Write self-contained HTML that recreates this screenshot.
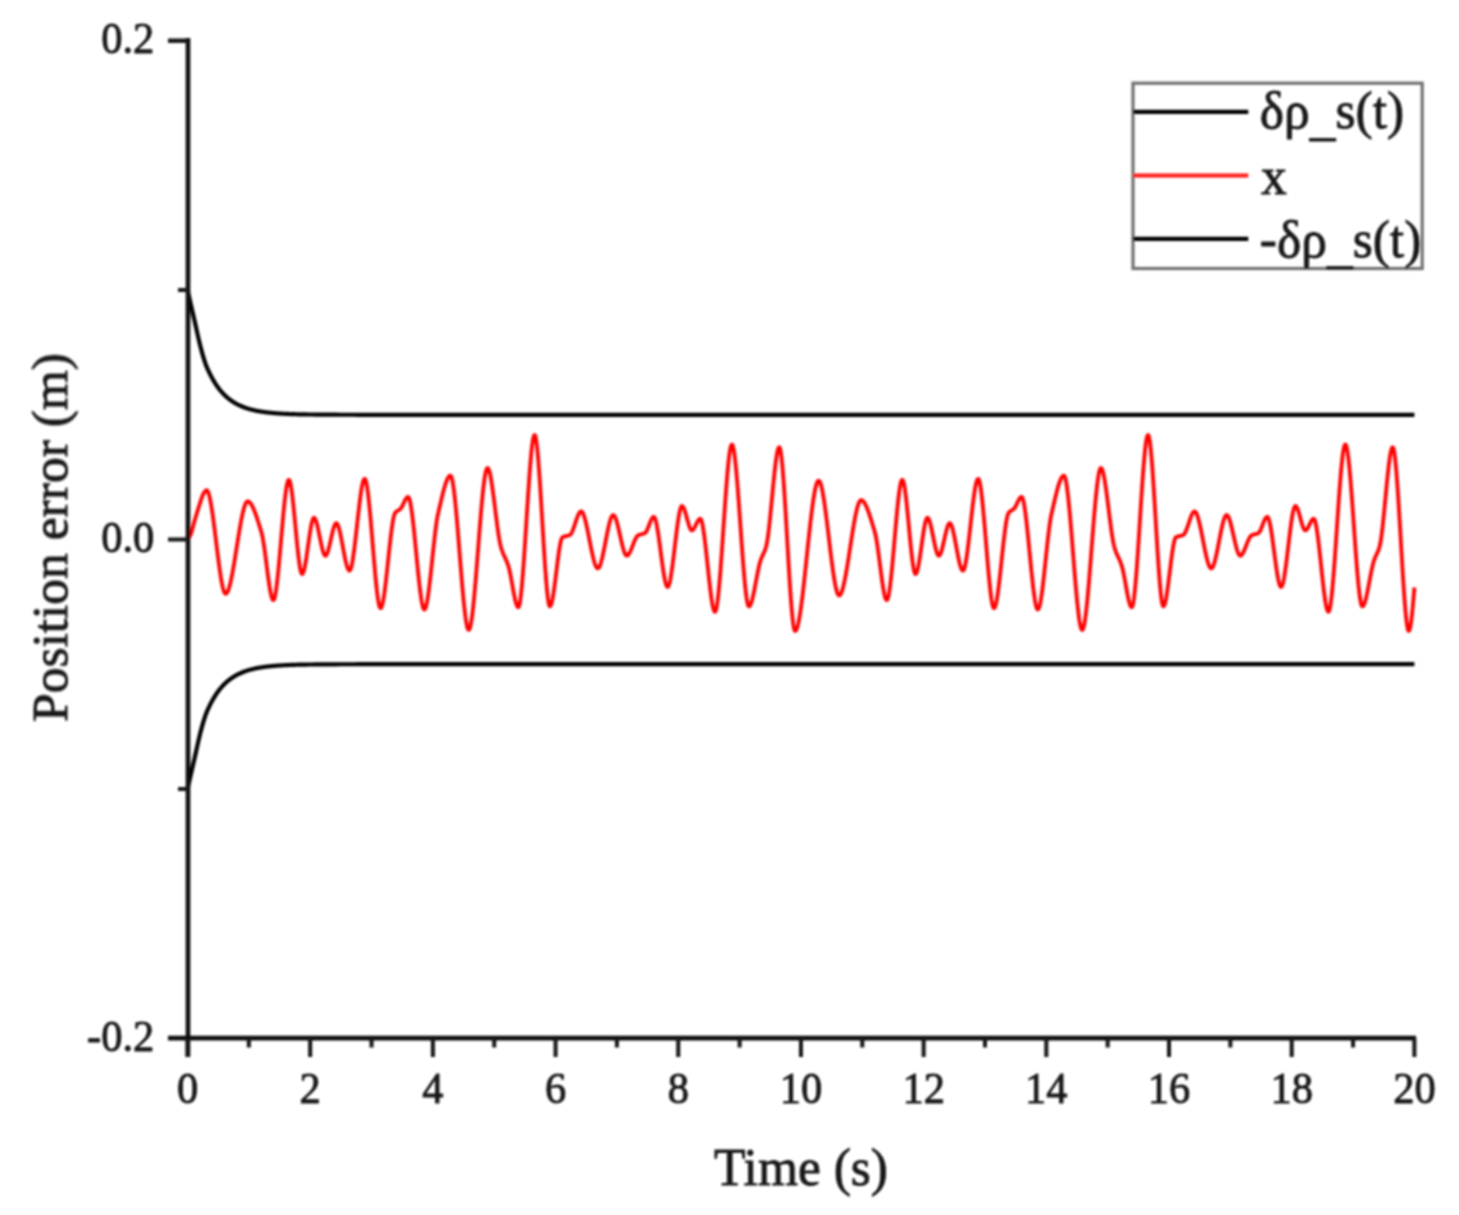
<!DOCTYPE html>
<html><head><meta charset="utf-8"><style>
html,body{margin:0;padding:0;background:#fff;}
svg{display:block;}
#w{width:1459px;height:1215px;}
text{font-family:"Liberation Serif",serif;fill:#141414;stroke:#141414;stroke-width:0.8px;}
</style></head><body><div id="w">
<svg width="1459" height="1215" viewBox="0 0 1459 1215">
<defs><filter id="b" x="0" y="0" width="1459" height="1215" filterUnits="userSpaceOnUse"><feGaussianBlur stdDeviation="1"/></filter></defs><rect width="1459" height="1215" fill="#fff"/><g filter="url(#b)">
<g fill="none" stroke-linejoin="round">
<path d="M187.50 290.10 L188.11 292.76 L188.73 295.42 L189.34 298.08 L189.95 300.74 L190.57 303.41 L191.18 306.07 L191.79 308.73 L192.41 311.39 L193.02 314.05 L193.63 316.71 L194.25 319.37 L194.86 322.06 L195.47 324.81 L196.09 327.58 L196.70 330.37 L197.32 333.14 L197.93 335.90 L198.54 338.61 L199.16 341.26 L199.77 343.83 L200.38 346.29 L201.00 348.64 L201.61 350.91 L202.22 353.13 L202.84 355.30 L203.45 357.39 L204.06 359.41 L204.68 361.33 L205.29 363.15 L205.90 364.86 L206.52 366.43 L207.13 367.90 L207.74 369.28 L208.36 370.61 L208.97 371.92 L209.58 373.21 L210.20 374.46 L210.81 375.67 L211.42 376.85 L212.04 377.98 L212.65 379.09 L213.26 380.16 L213.88 381.20 L214.49 382.21 L215.11 383.19 L215.72 384.14 L216.33 385.06 L216.95 385.96 L217.56 386.82 L218.17 387.66 L218.79 388.48 L219.40 389.27 L220.01 390.04 L220.63 390.78 L221.24 391.50 L221.85 392.20 L222.47 392.88 L223.08 393.54 L223.69 394.18 L224.31 394.80 L224.92 395.40 L225.53 395.98 L226.15 396.55 L226.76 397.09 L227.37 397.63 L227.99 398.14 L228.60 398.64 L229.21 399.13 L229.83 399.60 L230.44 400.05 L231.05 400.50 L231.67 400.93 L232.28 401.34 L232.90 401.75 L233.51 402.14 L234.12 402.52 L234.74 402.89 L235.35 403.25 L235.96 403.59 L236.58 403.93 L237.19 404.26 L237.80 404.57 L238.42 404.88 L239.03 405.18 L239.64 405.47 L240.26 405.75 L240.87 406.02 L241.48 406.28 L242.10 406.54 L242.71 406.79 L243.32 407.03 L243.94 407.26 L244.55 407.49 L245.16 407.71 L245.78 407.92 L246.39 408.13 L247.00 408.33 L247.62 408.52 L248.23 408.71 L248.84 408.89 L249.46 409.07 L250.07 409.24 L250.69 409.41 L251.30 409.57 L251.91 409.73 L252.53 409.88 L253.14 410.03 L253.75 410.17 L254.37 410.31 L254.98 410.45 L255.59 410.58 L256.21 410.70 L256.82 410.83 L257.43 410.95 L258.05 411.06 L258.66 411.17 L259.27 411.28 L259.89 411.39 L260.50 411.49 L261.11 411.59 L261.73 411.69 L262.34 411.78 L262.95 411.87 L263.57 411.96 L264.18 412.05 L264.79 412.13 L265.41 412.21 L266.02 412.29 L266.64 412.36 L267.25 412.43 L267.86 412.51 L268.48 412.57 L269.09 412.64 L269.70 412.71 L270.32 412.77 L270.93 412.83 L271.54 412.89 L272.16 412.95 L272.77 413.00 L273.38 413.06 L274.00 413.11 L274.61 413.16 L275.22 413.21 L275.84 413.26 L276.45 413.30 L277.06 413.35 L277.68 413.39 L278.29 413.43 L278.90 413.48 L279.52 413.51 L280.13 413.55 L280.74 413.59 L281.36 413.63 L281.97 413.66 L282.58 413.70 L283.20 413.73 L283.81 413.76 L284.43 413.79 L285.04 413.82 L285.65 413.85 L286.27 413.88 L286.88 413.91 L287.49 413.94 L288.11 413.96 L288.72 413.99 L289.33 414.01 L289.95 414.03 L290.56 414.06 L291.17 414.08 L291.79 414.10 L292.40 414.12 L293.01 414.14 L293.63 414.16 L294.24 414.18 L294.85 414.20 L295.47 414.22 L296.08 414.24 L296.69 414.25 L297.31 414.27 L297.92 414.29 L298.53 414.30 L299.15 414.32 L299.76 414.33 L300.37 414.34 L300.99 414.36 L301.60 414.37 L302.22 414.38 L302.83 414.40 L303.44 414.41 L304.06 414.42 L304.67 414.43 L305.28 414.44 L305.90 414.45 L306.51 414.46 L307.12 414.47 L307.74 414.48 L308.35 414.49 L308.96 414.50 L309.58 414.51 L310.19 414.52 L316.32 414.59 L322.46 414.65 L328.59 414.69 L334.73 414.72 L340.86 414.74 L347.00 414.76 L353.13 414.77 L359.27 414.78 L365.40 414.78 L371.54 414.79 L377.67 414.79 L383.80 414.79 L389.94 414.79 L396.07 414.80 L402.21 414.80 L408.34 414.80 L414.48 414.80 L420.61 414.80 L426.75 414.80 L432.88 414.80 L439.01 414.80 L445.15 414.80 L451.28 414.80 L457.42 414.80 L463.55 414.80 L469.69 414.80 L475.82 414.80 L481.96 414.80 L488.09 414.80 L494.23 414.80 L500.36 414.80 L506.49 414.80 L512.63 414.80 L518.76 414.80 L524.90 414.80 L531.03 414.80 L537.17 414.80 L543.30 414.80 L549.44 414.80 L555.57 414.80 L561.70 414.80 L567.84 414.80 L573.97 414.80 L580.11 414.80 L586.24 414.80 L592.38 414.80 L598.51 414.80 L604.65 414.80 L610.78 414.80 L616.92 414.80 L623.05 414.80 L629.18 414.80 L635.32 414.80 L641.45 414.80 L647.59 414.80 L653.72 414.80 L659.86 414.80 L665.99 414.80 L672.13 414.80 L678.26 414.80 L684.39 414.80 L690.53 414.80 L696.66 414.80 L702.80 414.80 L708.93 414.80 L715.07 414.80 L721.20 414.80 L727.34 414.80 L733.47 414.80 L739.61 414.80 L745.74 414.80 L751.87 414.80 L758.01 414.80 L764.14 414.80 L770.28 414.80 L776.41 414.80 L782.55 414.80 L788.68 414.80 L794.82 414.80 L800.95 414.80 L807.08 414.80 L813.22 414.80 L819.35 414.80 L825.49 414.80 L831.62 414.80 L837.76 414.80 L843.89 414.80 L850.03 414.80 L856.16 414.80 L862.30 414.80 L868.43 414.80 L874.56 414.80 L880.70 414.80 L886.83 414.80 L892.97 414.80 L899.10 414.80 L905.24 414.80 L911.37 414.80 L917.51 414.80 L923.64 414.80 L929.77 414.80 L935.91 414.80 L942.04 414.80 L948.18 414.80 L954.31 414.80 L960.45 414.80 L966.58 414.80 L972.72 414.80 L978.85 414.80 L984.99 414.80 L991.12 414.80 L997.25 414.80 L1003.39 414.80 L1009.52 414.80 L1015.66 414.80 L1021.79 414.80 L1027.93 414.80 L1034.06 414.80 L1040.20 414.80 L1046.33 414.80 L1052.46 414.80 L1058.60 414.80 L1064.73 414.80 L1070.87 414.80 L1077.00 414.80 L1083.14 414.80 L1089.27 414.80 L1095.41 414.80 L1101.54 414.80 L1107.68 414.80 L1113.81 414.80 L1119.94 414.80 L1126.08 414.80 L1132.21 414.80 L1138.35 414.80 L1144.48 414.80 L1150.62 414.80 L1156.75 414.80 L1162.89 414.80 L1169.02 414.80 L1175.15 414.80 L1181.29 414.80 L1187.42 414.80 L1193.56 414.80 L1199.69 414.80 L1205.83 414.80 L1211.96 414.80 L1218.10 414.80 L1224.23 414.80 L1230.37 414.80 L1236.50 414.80 L1242.63 414.80 L1248.77 414.80 L1254.90 414.80 L1261.04 414.80 L1267.17 414.80 L1273.31 414.80 L1279.44 414.80 L1285.58 414.80 L1291.71 414.80 L1297.84 414.80 L1303.98 414.80 L1310.11 414.80 L1316.25 414.80 L1322.38 414.80 L1328.52 414.80 L1334.65 414.80 L1340.79 414.80 L1346.92 414.80 L1353.06 414.80 L1359.19 414.80 L1365.32 414.80 L1371.46 414.80 L1377.59 414.80 L1383.73 414.80 L1389.86 414.80 L1396.00 414.80 L1402.13 414.80 L1408.27 414.80 L1414.40 414.80" stroke="#000" stroke-width="4.2"/>
<path d="M187.50 788.90 L188.11 786.24 L188.73 783.58 L189.34 780.92 L189.95 778.26 L190.57 775.59 L191.18 772.93 L191.79 770.27 L192.41 767.61 L193.02 764.95 L193.63 762.29 L194.25 759.63 L194.86 756.94 L195.47 754.19 L196.09 751.42 L196.70 748.63 L197.32 745.86 L197.93 743.10 L198.54 740.39 L199.16 737.74 L199.77 735.17 L200.38 732.71 L201.00 730.36 L201.61 728.09 L202.22 725.87 L202.84 723.70 L203.45 721.61 L204.06 719.59 L204.68 717.67 L205.29 715.85 L205.90 714.14 L206.52 712.57 L207.13 711.10 L207.74 709.72 L208.36 708.39 L208.97 707.08 L209.58 705.79 L210.20 704.54 L210.81 703.33 L211.42 702.15 L212.04 701.02 L212.65 699.91 L213.26 698.84 L213.88 697.80 L214.49 696.79 L215.11 695.81 L215.72 694.86 L216.33 693.94 L216.95 693.04 L217.56 692.18 L218.17 691.34 L218.79 690.52 L219.40 689.73 L220.01 688.96 L220.63 688.22 L221.24 687.50 L221.85 686.80 L222.47 686.12 L223.08 685.46 L223.69 684.82 L224.31 684.20 L224.92 683.60 L225.53 683.02 L226.15 682.45 L226.76 681.91 L227.37 681.37 L227.99 680.86 L228.60 680.36 L229.21 679.87 L229.83 679.40 L230.44 678.95 L231.05 678.50 L231.67 678.07 L232.28 677.66 L232.90 677.25 L233.51 676.86 L234.12 676.48 L234.74 676.11 L235.35 675.75 L235.96 675.41 L236.58 675.07 L237.19 674.74 L237.80 674.43 L238.42 674.12 L239.03 673.82 L239.64 673.53 L240.26 673.25 L240.87 672.98 L241.48 672.72 L242.10 672.46 L242.71 672.21 L243.32 671.97 L243.94 671.74 L244.55 671.51 L245.16 671.29 L245.78 671.08 L246.39 670.87 L247.00 670.67 L247.62 670.48 L248.23 670.29 L248.84 670.11 L249.46 669.93 L250.07 669.76 L250.69 669.59 L251.30 669.43 L251.91 669.27 L252.53 669.12 L253.14 668.97 L253.75 668.83 L254.37 668.69 L254.98 668.55 L255.59 668.42 L256.21 668.30 L256.82 668.17 L257.43 668.05 L258.05 667.94 L258.66 667.83 L259.27 667.72 L259.89 667.61 L260.50 667.51 L261.11 667.41 L261.73 667.31 L262.34 667.22 L262.95 667.13 L263.57 667.04 L264.18 666.95 L264.79 666.87 L265.41 666.79 L266.02 666.71 L266.64 666.64 L267.25 666.57 L267.86 666.49 L268.48 666.43 L269.09 666.36 L269.70 666.29 L270.32 666.23 L270.93 666.17 L271.54 666.11 L272.16 666.05 L272.77 666.00 L273.38 665.94 L274.00 665.89 L274.61 665.84 L275.22 665.79 L275.84 665.74 L276.45 665.70 L277.06 665.65 L277.68 665.61 L278.29 665.57 L278.90 665.52 L279.52 665.49 L280.13 665.45 L280.74 665.41 L281.36 665.37 L281.97 665.34 L282.58 665.30 L283.20 665.27 L283.81 665.24 L284.43 665.21 L285.04 665.18 L285.65 665.15 L286.27 665.12 L286.88 665.09 L287.49 665.06 L288.11 665.04 L288.72 665.01 L289.33 664.99 L289.95 664.97 L290.56 664.94 L291.17 664.92 L291.79 664.90 L292.40 664.88 L293.01 664.86 L293.63 664.84 L294.24 664.82 L294.85 664.80 L295.47 664.78 L296.08 664.76 L296.69 664.75 L297.31 664.73 L297.92 664.71 L298.53 664.70 L299.15 664.68 L299.76 664.67 L300.37 664.66 L300.99 664.64 L301.60 664.63 L302.22 664.62 L302.83 664.60 L303.44 664.59 L304.06 664.58 L304.67 664.57 L305.28 664.56 L305.90 664.55 L306.51 664.54 L307.12 664.53 L307.74 664.52 L308.35 664.51 L308.96 664.50 L309.58 664.49 L310.19 664.48 L316.32 664.41 L322.46 664.35 L328.59 664.31 L334.73 664.28 L340.86 664.26 L347.00 664.24 L353.13 664.23 L359.27 664.22 L365.40 664.22 L371.54 664.21 L377.67 664.21 L383.80 664.21 L389.94 664.21 L396.07 664.20 L402.21 664.20 L408.34 664.20 L414.48 664.20 L420.61 664.20 L426.75 664.20 L432.88 664.20 L439.01 664.20 L445.15 664.20 L451.28 664.20 L457.42 664.20 L463.55 664.20 L469.69 664.20 L475.82 664.20 L481.96 664.20 L488.09 664.20 L494.23 664.20 L500.36 664.20 L506.49 664.20 L512.63 664.20 L518.76 664.20 L524.90 664.20 L531.03 664.20 L537.17 664.20 L543.30 664.20 L549.44 664.20 L555.57 664.20 L561.70 664.20 L567.84 664.20 L573.97 664.20 L580.11 664.20 L586.24 664.20 L592.38 664.20 L598.51 664.20 L604.65 664.20 L610.78 664.20 L616.92 664.20 L623.05 664.20 L629.18 664.20 L635.32 664.20 L641.45 664.20 L647.59 664.20 L653.72 664.20 L659.86 664.20 L665.99 664.20 L672.13 664.20 L678.26 664.20 L684.39 664.20 L690.53 664.20 L696.66 664.20 L702.80 664.20 L708.93 664.20 L715.07 664.20 L721.20 664.20 L727.34 664.20 L733.47 664.20 L739.61 664.20 L745.74 664.20 L751.87 664.20 L758.01 664.20 L764.14 664.20 L770.28 664.20 L776.41 664.20 L782.55 664.20 L788.68 664.20 L794.82 664.20 L800.95 664.20 L807.08 664.20 L813.22 664.20 L819.35 664.20 L825.49 664.20 L831.62 664.20 L837.76 664.20 L843.89 664.20 L850.03 664.20 L856.16 664.20 L862.30 664.20 L868.43 664.20 L874.56 664.20 L880.70 664.20 L886.83 664.20 L892.97 664.20 L899.10 664.20 L905.24 664.20 L911.37 664.20 L917.51 664.20 L923.64 664.20 L929.77 664.20 L935.91 664.20 L942.04 664.20 L948.18 664.20 L954.31 664.20 L960.45 664.20 L966.58 664.20 L972.72 664.20 L978.85 664.20 L984.99 664.20 L991.12 664.20 L997.25 664.20 L1003.39 664.20 L1009.52 664.20 L1015.66 664.20 L1021.79 664.20 L1027.93 664.20 L1034.06 664.20 L1040.20 664.20 L1046.33 664.20 L1052.46 664.20 L1058.60 664.20 L1064.73 664.20 L1070.87 664.20 L1077.00 664.20 L1083.14 664.20 L1089.27 664.20 L1095.41 664.20 L1101.54 664.20 L1107.68 664.20 L1113.81 664.20 L1119.94 664.20 L1126.08 664.20 L1132.21 664.20 L1138.35 664.20 L1144.48 664.20 L1150.62 664.20 L1156.75 664.20 L1162.89 664.20 L1169.02 664.20 L1175.15 664.20 L1181.29 664.20 L1187.42 664.20 L1193.56 664.20 L1199.69 664.20 L1205.83 664.20 L1211.96 664.20 L1218.10 664.20 L1224.23 664.20 L1230.37 664.20 L1236.50 664.20 L1242.63 664.20 L1248.77 664.20 L1254.90 664.20 L1261.04 664.20 L1267.17 664.20 L1273.31 664.20 L1279.44 664.20 L1285.58 664.20 L1291.71 664.20 L1297.84 664.20 L1303.98 664.20 L1310.11 664.20 L1316.25 664.20 L1322.38 664.20 L1328.52 664.20 L1334.65 664.20 L1340.79 664.20 L1346.92 664.20 L1353.06 664.20 L1359.19 664.20 L1365.32 664.20 L1371.46 664.20 L1377.59 664.20 L1383.73 664.20 L1389.86 664.20 L1396.00 664.20 L1402.13 664.20 L1408.27 664.20 L1414.40 664.20" stroke="#000" stroke-width="4.2"/>
<path d="M187.5 539.30 L188.0 538.89 L188.5 538.30 L189.0 537.55 L189.5 536.67 L190.0 535.69 L190.5 534.62 L191.0 533.50 L191.5 532.15 L192.0 530.48 L192.5 528.59 L193.0 526.60 L193.5 524.63 L194.0 522.80 L194.5 521.08 L195.0 519.38 L195.5 517.70 L196.0 516.03 L196.5 514.38 L197.0 512.75 L197.5 511.13 L198.0 509.50 L198.5 507.88 L199.0 506.28 L199.5 504.71 L200.0 503.17 L200.5 501.69 L201.0 500.22 L201.5 498.69 L202.0 497.18 L202.5 495.77 L203.0 494.54 L203.5 493.56 L204.0 492.79 L204.5 492.04 L205.0 491.35 L205.5 490.79 L206.0 490.39 L206.5 490.21 L207.0 490.33 L207.5 490.87 L208.0 491.79 L208.5 493.08 L209.0 494.71 L209.5 496.66 L210.0 498.90 L210.5 501.42 L211.0 504.19 L211.5 507.20 L212.0 510.41 L212.5 513.80 L213.0 517.36 L213.5 521.06 L214.0 524.88 L214.5 528.79 L215.0 532.78 L215.5 536.81 L216.0 540.88 L216.5 544.95 L217.0 549.01 L217.5 553.02 L218.0 556.98 L218.5 560.85 L219.0 564.62 L219.5 568.26 L220.0 571.75 L220.5 575.06 L221.0 578.18 L221.5 581.08 L222.0 583.75 L222.5 586.14 L223.0 588.26 L223.5 590.07 L224.0 591.54 L224.5 592.67 L225.0 593.42 L225.5 593.77 L226.0 593.74 L226.5 593.42 L227.0 592.83 L227.5 591.99 L228.0 590.91 L228.5 589.60 L229.0 588.08 L229.5 586.36 L230.0 584.45 L230.5 582.36 L231.0 580.12 L231.5 577.72 L232.0 575.19 L232.5 572.54 L233.0 569.78 L233.5 566.93 L234.0 563.99 L234.5 560.98 L235.0 557.92 L235.5 554.81 L236.0 551.68 L236.5 548.52 L237.0 545.36 L237.5 542.22 L238.0 539.09 L238.5 536.00 L239.0 532.96 L239.5 529.97 L240.0 527.07 L240.5 524.25 L241.0 521.53 L241.5 518.93 L242.0 516.45 L242.5 514.12 L243.0 511.93 L243.5 509.92 L244.0 508.08 L244.5 506.44 L245.0 505.00 L245.5 503.78 L246.0 502.80 L246.5 502.05 L247.0 501.57 L247.5 501.36 L248.0 501.39 L248.5 501.54 L249.0 501.81 L249.5 502.19 L250.0 502.68 L250.5 503.28 L251.0 503.97 L251.5 504.76 L252.0 505.63 L252.5 506.59 L253.0 507.62 L253.5 508.73 L254.0 509.91 L254.5 511.15 L255.0 512.45 L255.5 513.80 L256.0 515.21 L256.5 516.65 L257.0 518.14 L257.5 519.66 L258.0 521.21 L258.5 522.79 L259.0 524.38 L259.5 525.99 L260.0 527.61 L260.5 529.24 L261.0 530.86 L261.5 532.51 L262.0 534.46 L262.5 536.81 L263.0 539.50 L263.5 542.49 L264.0 545.74 L264.5 549.21 L265.0 552.85 L265.5 556.62 L266.0 560.48 L266.5 564.39 L267.0 568.30 L267.5 572.18 L268.0 575.97 L268.5 579.63 L269.0 583.14 L269.5 586.43 L270.0 589.47 L270.5 592.21 L271.0 594.62 L271.5 596.65 L272.0 598.25 L272.5 599.40 L273.0 600.03 L273.5 600.10 L274.0 599.48 L274.5 598.18 L275.0 596.24 L275.5 593.70 L276.0 590.63 L276.5 587.06 L277.0 583.05 L277.5 578.65 L278.0 573.90 L278.5 568.85 L279.0 563.55 L279.5 558.05 L280.0 552.40 L280.5 546.64 L281.0 540.82 L281.5 535.00 L282.0 529.22 L282.5 523.53 L283.0 517.98 L283.5 512.62 L284.0 507.49 L284.5 502.64 L285.0 498.13 L285.5 493.99 L286.0 490.29 L286.5 487.06 L287.0 484.36 L287.5 482.24 L288.0 480.74 L288.5 479.91 L289.0 479.80 L289.5 480.45 L290.0 481.83 L290.5 483.86 L291.0 486.49 L291.5 489.66 L292.0 493.31 L292.5 497.37 L293.0 501.79 L293.5 506.51 L294.0 511.47 L294.5 516.60 L295.0 521.86 L295.5 527.17 L296.0 532.47 L296.5 537.71 L297.0 542.83 L297.5 547.77 L298.0 552.46 L298.5 556.85 L299.0 560.88 L299.5 564.48 L300.0 567.60 L300.5 570.17 L301.0 572.14 L301.5 573.44 L302.0 574.03 L302.5 573.88 L303.0 573.17 L303.5 571.95 L304.0 570.27 L304.5 568.17 L305.0 565.72 L305.5 562.95 L306.0 559.93 L306.5 556.69 L307.0 553.30 L307.5 549.81 L308.0 546.26 L308.5 542.70 L309.0 539.19 L309.5 535.77 L310.0 532.50 L310.5 529.44 L311.0 526.61 L311.5 524.09 L312.0 521.92 L312.5 520.15 L313.0 518.83 L313.5 518.01 L314.0 517.75 L314.5 517.98 L315.0 518.61 L315.5 519.59 L316.0 520.90 L316.5 522.48 L317.0 524.31 L317.5 526.34 L318.0 528.54 L318.5 530.86 L319.0 533.28 L319.5 535.75 L320.0 538.24 L320.5 540.71 L321.0 543.11 L321.5 545.42 L322.0 547.58 L322.5 549.58 L323.0 551.36 L323.5 552.89 L324.0 554.13 L324.5 555.05 L325.0 555.60 L325.5 555.75 L326.0 555.49 L326.5 554.85 L327.0 553.89 L327.5 552.63 L328.0 551.12 L328.5 549.39 L329.0 547.48 L329.5 545.42 L330.0 543.27 L330.5 541.05 L331.0 538.80 L331.5 536.56 L332.0 534.38 L332.5 532.28 L333.0 530.31 L333.5 528.50 L334.0 526.89 L334.5 525.53 L335.0 524.44 L335.5 523.67 L336.0 523.26 L336.5 523.24 L337.0 523.61 L337.5 524.35 L338.0 525.42 L338.5 526.79 L339.0 528.44 L339.5 530.32 L340.0 532.41 L340.5 534.68 L341.0 537.10 L341.5 539.64 L342.0 542.25 L342.5 544.93 L343.0 547.62 L343.5 550.31 L344.0 552.96 L344.5 555.54 L345.0 558.02 L345.5 560.37 L346.0 562.56 L346.5 564.55 L347.0 566.32 L347.5 567.83 L348.0 569.05 L348.5 569.96 L349.0 570.52 L349.5 570.70 L350.0 570.38 L350.5 569.50 L351.0 568.11 L351.5 566.24 L352.0 563.93 L352.5 561.23 L353.0 558.16 L353.5 554.78 L354.0 551.12 L354.5 547.21 L355.0 543.10 L355.5 538.83 L356.0 534.43 L356.5 529.95 L357.0 525.43 L357.5 520.90 L358.0 516.40 L358.5 511.98 L359.0 507.67 L359.5 503.50 L360.0 499.53 L360.5 495.79 L361.0 492.32 L361.5 489.15 L362.0 486.34 L362.5 483.91 L363.0 481.90 L363.5 480.36 L364.0 479.33 L364.5 478.84 L365.0 478.96 L365.5 479.81 L366.0 481.35 L366.5 483.52 L367.0 486.29 L367.5 489.60 L368.0 493.41 L368.5 497.66 L369.0 502.31 L369.5 507.32 L370.0 512.62 L370.5 518.18 L371.0 523.94 L371.5 529.86 L372.0 535.89 L372.5 541.97 L373.0 548.07 L373.5 554.14 L374.0 560.12 L374.5 565.96 L375.0 571.63 L375.5 577.07 L376.0 582.23 L376.5 587.06 L377.0 591.52 L377.5 595.55 L378.0 599.12 L378.5 602.16 L379.0 604.64 L379.5 606.51 L380.0 607.70 L380.5 608.19 L381.0 607.98 L381.5 607.17 L382.0 605.82 L382.5 603.96 L383.0 601.63 L383.5 598.87 L384.0 595.74 L384.5 592.25 L385.0 588.47 L385.5 584.43 L386.0 580.17 L386.5 575.73 L387.0 571.15 L387.5 566.48 L388.0 561.76 L388.5 557.02 L389.0 552.31 L389.5 547.67 L390.0 543.15 L390.5 538.77 L391.0 534.59 L391.5 530.65 L392.0 526.98 L392.5 523.63 L393.0 520.64 L393.5 518.04 L394.0 515.89 L394.5 514.23 L395.0 513.08 L395.5 512.43 L396.0 511.93 L396.5 511.50 L397.0 511.13 L397.5 510.81 L398.0 510.51 L398.5 510.22 L399.0 509.91 L399.5 509.57 L400.0 509.18 L400.5 508.73 L401.0 508.15 L401.5 507.42 L402.0 506.56 L402.5 505.62 L403.0 504.60 L403.5 503.55 L404.0 502.48 L404.5 501.43 L405.0 500.43 L405.5 499.50 L406.0 498.67 L406.5 497.96 L407.0 497.42 L407.5 497.05 L408.0 496.90 L408.5 497.13 L409.0 497.95 L409.5 499.33 L410.0 501.24 L410.5 503.64 L411.0 506.48 L411.5 509.73 L412.0 513.35 L412.5 517.30 L413.0 521.54 L413.5 526.03 L414.0 530.73 L414.5 535.61 L415.0 540.62 L415.5 545.73 L416.0 550.89 L416.5 556.07 L417.0 561.23 L417.5 566.33 L418.0 571.33 L418.5 576.20 L419.0 580.88 L419.5 585.35 L420.0 589.56 L420.5 593.48 L421.0 597.06 L421.5 600.27 L422.0 603.07 L422.5 605.42 L423.0 607.28 L423.5 608.61 L424.0 609.37 L424.5 609.53 L425.0 609.09 L425.5 608.09 L426.0 606.57 L426.5 604.57 L427.0 602.13 L427.5 599.28 L428.0 596.07 L428.5 592.52 L429.0 588.69 L429.5 584.61 L430.0 580.32 L430.5 575.85 L431.0 571.24 L431.5 566.54 L432.0 561.78 L432.5 557.00 L433.0 552.23 L433.5 547.52 L434.0 542.91 L434.5 538.42 L435.0 534.11 L435.5 530.01 L436.0 526.15 L436.5 522.58 L437.0 519.33 L437.5 516.45 L438.0 513.97 L438.5 511.82 L439.0 509.68 L439.5 507.52 L440.0 505.36 L440.5 503.20 L441.0 501.06 L441.5 498.94 L442.0 496.85 L442.5 494.81 L443.0 492.82 L443.5 490.89 L444.0 489.03 L444.5 487.25 L445.0 485.56 L445.5 483.97 L446.0 482.49 L446.5 481.13 L447.0 479.90 L447.5 478.80 L448.0 477.85 L448.5 477.06 L449.0 476.44 L449.5 475.99 L450.0 475.72 L450.5 475.66 L451.0 476.10 L451.5 477.19 L452.0 478.88 L452.5 481.15 L453.0 483.96 L453.5 487.26 L454.0 491.02 L454.5 495.20 L455.0 499.77 L455.5 504.68 L456.0 509.90 L456.5 515.39 L457.0 521.11 L457.5 527.02 L458.0 533.10 L458.5 539.29 L459.0 545.56 L459.5 551.88 L460.0 558.20 L460.5 564.49 L461.0 570.71 L461.5 576.82 L462.0 582.79 L462.5 588.57 L463.0 594.13 L463.5 599.44 L464.0 604.44 L464.5 609.12 L465.0 613.42 L465.5 617.31 L466.0 620.75 L466.5 623.71 L467.0 626.14 L467.5 628.02 L468.0 629.29 L468.5 629.93 L469.0 629.90 L469.5 629.19 L470.0 627.85 L470.5 625.92 L471.0 623.42 L471.5 620.40 L472.0 616.90 L472.5 612.94 L473.0 608.58 L473.5 603.83 L474.0 598.75 L474.5 593.36 L475.0 587.71 L475.5 581.83 L476.0 575.76 L476.5 569.53 L477.0 563.19 L477.5 556.77 L478.0 550.30 L478.5 543.82 L479.0 537.37 L479.5 530.99 L480.0 524.71 L480.5 518.58 L481.0 512.61 L481.5 506.87 L482.0 501.37 L482.5 496.16 L483.0 491.28 L483.5 486.76 L484.0 482.63 L484.5 478.94 L485.0 475.72 L485.5 473.01 L486.0 470.85 L486.5 469.27 L487.0 468.31 L487.5 468.00 L488.0 468.28 L488.5 469.05 L489.0 470.27 L489.5 471.90 L490.0 473.92 L490.5 476.29 L491.0 478.98 L491.5 481.96 L492.0 485.18 L492.5 488.62 L493.0 492.23 L493.5 496.00 L494.0 499.88 L494.5 503.85 L495.0 507.86 L495.5 511.88 L496.0 515.88 L496.5 519.83 L497.0 523.69 L497.5 527.43 L498.0 531.01 L498.5 534.40 L499.0 537.57 L499.5 540.48 L500.0 543.11 L500.5 545.40 L501.0 547.34 L501.5 548.98 L502.0 550.47 L502.5 551.84 L503.0 553.11 L503.5 554.31 L504.0 555.44 L504.5 556.53 L505.0 557.61 L505.5 558.69 L506.0 559.79 L506.5 560.94 L507.0 562.16 L507.5 563.46 L508.0 564.87 L508.5 566.43 L509.0 568.25 L509.5 570.34 L510.0 572.64 L510.5 575.12 L511.0 577.74 L511.5 580.47 L512.0 583.25 L512.5 586.06 L513.0 588.85 L513.5 591.59 L514.0 594.23 L514.5 596.73 L515.0 599.07 L515.5 601.19 L516.0 603.06 L516.5 604.63 L517.0 605.88 L517.5 606.76 L518.0 607.23 L518.5 607.20 L519.0 606.31 L519.5 604.53 L520.0 601.92 L520.5 598.54 L521.0 594.46 L521.5 589.73 L522.0 584.41 L522.5 578.56 L523.0 572.25 L523.5 565.52 L524.0 558.45 L524.5 551.09 L525.0 543.50 L525.5 535.73 L526.0 527.86 L526.5 519.94 L527.0 512.02 L527.5 504.17 L528.0 496.46 L528.5 488.93 L529.0 481.64 L529.5 474.67 L530.0 468.06 L530.5 461.88 L531.0 456.19 L531.5 451.04 L532.0 446.49 L532.5 442.62 L533.0 439.47 L533.5 437.10 L534.0 435.58 L534.5 434.96 L535.0 435.34 L535.5 436.74 L536.0 439.11 L536.5 442.36 L537.0 446.44 L537.5 451.25 L538.0 456.75 L538.5 462.85 L539.0 469.48 L539.5 476.57 L540.0 484.06 L540.5 491.86 L541.0 499.92 L541.5 508.15 L542.0 516.49 L542.5 524.86 L543.0 533.20 L543.5 541.43 L544.0 549.49 L544.5 557.29 L545.0 564.78 L545.5 571.87 L546.0 578.50 L546.5 584.60 L547.0 590.10 L547.5 594.91 L548.0 598.99 L548.5 602.24 L549.0 604.61 L549.5 606.01 L550.0 606.39 L550.5 605.99 L551.0 605.02 L551.5 603.51 L552.0 601.53 L552.5 599.12 L553.0 596.33 L553.5 593.22 L554.0 589.82 L554.5 586.19 L555.0 582.38 L555.5 578.44 L556.0 574.41 L556.5 570.36 L557.0 566.32 L557.5 562.35 L558.0 558.49 L558.5 554.80 L559.0 551.32 L559.5 548.11 L560.0 545.21 L560.5 542.68 L561.0 540.56 L561.5 538.90 L562.0 537.75 L562.5 537.16 L563.0 536.92 L563.5 536.72 L564.0 536.55 L564.5 536.41 L565.0 536.29 L565.5 536.18 L566.0 536.08 L566.5 535.99 L567.0 535.89 L567.5 535.78 L568.0 535.66 L568.5 535.52 L569.0 535.35 L569.5 535.15 L570.0 534.90 L570.5 534.47 L571.0 533.83 L571.5 533.00 L572.0 532.02 L572.5 530.90 L573.0 529.65 L573.5 528.32 L574.0 526.90 L574.5 525.44 L575.0 523.94 L575.5 522.43 L576.0 520.94 L576.5 519.48 L577.0 518.07 L577.5 516.74 L578.0 515.51 L578.5 514.40 L579.0 513.43 L579.5 512.63 L580.0 512.01 L580.5 511.59 L581.0 511.41 L581.5 511.48 L582.0 511.85 L582.5 512.50 L583.0 513.39 L583.5 514.53 L584.0 515.89 L584.5 517.44 L585.0 519.18 L585.5 521.09 L586.0 523.14 L586.5 525.31 L587.0 527.60 L587.5 529.98 L588.0 532.43 L588.5 534.93 L589.0 537.47 L589.5 540.03 L590.0 542.58 L590.5 545.12 L591.0 547.62 L591.5 550.06 L592.0 552.43 L592.5 554.71 L593.0 556.88 L593.5 558.91 L594.0 560.80 L594.5 562.52 L595.0 564.06 L595.5 565.39 L596.0 566.51 L596.5 567.38 L597.0 568.00 L597.5 568.34 L598.0 568.38 L598.5 568.10 L599.0 567.51 L599.5 566.64 L600.0 565.51 L600.5 564.13 L601.0 562.53 L601.5 560.73 L602.0 558.75 L602.5 556.62 L603.0 554.36 L603.5 551.99 L604.0 549.53 L604.5 547.00 L605.0 544.43 L605.5 541.83 L606.0 539.23 L606.5 536.66 L607.0 534.12 L607.5 531.65 L608.0 529.27 L608.5 527.00 L609.0 524.85 L609.5 522.86 L610.0 521.04 L610.5 519.42 L611.0 518.02 L611.5 516.86 L612.0 515.96 L612.5 515.34 L613.0 515.03 L613.5 515.05 L614.0 515.38 L614.5 516.01 L615.0 516.90 L615.5 518.04 L616.0 519.39 L616.5 520.94 L617.0 522.67 L617.5 524.54 L618.0 526.53 L618.5 528.62 L619.0 530.78 L619.5 533.00 L620.0 535.24 L620.5 537.48 L621.0 539.70 L621.5 541.87 L622.0 543.97 L622.5 545.97 L623.0 547.85 L623.5 549.59 L624.0 551.16 L624.5 552.54 L625.0 553.70 L625.5 554.62 L626.0 555.27 L626.5 555.63 L627.0 555.69 L627.5 555.51 L628.0 555.14 L628.5 554.59 L629.0 553.89 L629.5 553.05 L630.0 552.09 L630.5 551.03 L631.0 549.89 L631.5 548.68 L632.0 547.42 L632.5 546.14 L633.0 544.84 L633.5 543.56 L634.0 542.30 L634.5 541.08 L635.0 539.93 L635.5 538.87 L636.0 537.90 L636.5 537.05 L637.0 536.33 L637.5 535.78 L638.0 535.39 L638.5 535.14 L639.0 534.93 L639.5 534.76 L640.0 534.60 L640.5 534.47 L641.0 534.35 L641.5 534.24 L642.0 534.12 L642.5 534.00 L643.0 533.87 L643.5 533.71 L644.0 533.53 L644.5 533.31 L645.0 533.06 L645.5 532.63 L646.0 531.99 L646.5 531.16 L647.0 530.17 L647.5 529.06 L648.0 527.85 L648.5 526.58 L649.0 525.27 L649.5 523.96 L650.0 522.67 L650.5 521.43 L651.0 520.28 L651.5 519.24 L652.0 518.35 L652.5 517.63 L653.0 517.12 L653.5 516.84 L654.0 516.85 L654.5 517.36 L655.0 518.35 L655.5 519.80 L656.0 521.65 L656.5 523.88 L657.0 526.45 L657.5 529.30 L658.0 532.41 L658.5 535.74 L659.0 539.23 L659.5 542.87 L660.0 546.60 L660.5 550.38 L661.0 554.18 L661.5 557.96 L662.0 561.67 L662.5 565.28 L663.0 568.74 L663.5 572.03 L664.0 575.09 L664.5 577.89 L665.0 580.39 L665.5 582.55 L666.0 584.33 L666.5 585.69 L667.0 586.58 L667.5 586.98 L668.0 586.84 L668.5 586.13 L669.0 584.91 L669.5 583.21 L670.0 581.08 L670.5 578.55 L671.0 575.67 L671.5 572.47 L672.0 569.00 L672.5 565.31 L673.0 561.42 L673.5 557.39 L674.0 553.25 L674.5 549.04 L675.0 544.81 L675.5 540.59 L676.0 536.43 L676.5 532.38 L677.0 528.46 L677.5 524.72 L678.0 521.20 L678.5 517.95 L679.0 515.00 L679.5 512.40 L680.0 510.18 L680.5 508.39 L681.0 507.07 L681.5 506.26 L682.0 506.00 L682.5 506.20 L683.0 506.73 L683.5 507.56 L684.0 508.64 L684.5 509.95 L685.0 511.44 L685.5 513.08 L686.0 514.82 L686.5 516.63 L687.0 518.48 L687.5 520.32 L688.0 522.11 L688.5 523.83 L689.0 525.42 L689.5 526.86 L690.0 528.11 L690.5 529.12 L691.0 529.86 L691.5 530.30 L692.0 530.39 L692.5 530.21 L693.0 529.82 L693.5 529.24 L694.0 528.51 L694.5 527.66 L695.0 526.71 L695.5 525.70 L696.0 524.66 L696.5 523.61 L697.0 522.59 L697.5 521.62 L698.0 520.75 L698.5 519.99 L699.0 519.38 L699.5 518.95 L700.0 518.73 L700.5 518.80 L701.0 519.44 L701.5 520.67 L702.0 522.42 L702.5 524.66 L703.0 527.35 L703.5 530.44 L704.0 533.88 L704.5 537.64 L705.0 541.67 L705.5 545.92 L706.0 550.36 L706.5 554.93 L707.0 559.60 L707.5 564.33 L708.0 569.06 L708.5 573.76 L709.0 578.38 L709.5 582.88 L710.0 587.21 L710.5 591.33 L711.0 595.20 L711.5 598.78 L712.0 602.01 L712.5 604.86 L713.0 607.29 L713.5 609.24 L714.0 610.68 L714.5 611.57 L715.0 611.85 L715.5 611.38 L716.0 610.08 L716.5 608.01 L717.0 605.22 L717.5 601.76 L718.0 597.68 L718.5 593.04 L719.0 587.89 L719.5 582.27 L720.0 576.25 L720.5 569.87 L721.0 563.19 L721.5 556.26 L722.0 549.12 L722.5 541.84 L723.0 534.46 L723.5 527.04 L724.0 519.62 L724.5 512.26 L725.0 505.02 L725.5 497.94 L726.0 491.07 L726.5 484.48 L727.0 478.20 L727.5 472.30 L728.0 466.82 L728.5 461.81 L729.0 457.34 L729.5 453.44 L730.0 450.17 L730.5 447.59 L731.0 445.75 L731.5 444.69 L732.0 444.48 L732.5 445.09 L733.0 446.47 L733.5 448.58 L734.0 451.37 L734.5 454.79 L735.0 458.78 L735.5 463.30 L736.0 468.31 L736.5 473.74 L737.0 479.56 L737.5 485.71 L738.0 492.15 L738.5 498.82 L739.0 505.68 L739.5 512.67 L740.0 519.75 L740.5 526.88 L741.0 533.99 L741.5 541.04 L742.0 547.99 L742.5 554.77 L743.0 561.36 L743.5 567.68 L744.0 573.71 L744.5 579.38 L745.0 584.65 L745.5 589.46 L746.0 593.78 L746.5 597.55 L747.0 600.72 L747.5 603.24 L748.0 605.07 L748.5 606.15 L749.0 606.45 L749.5 606.21 L750.0 605.62 L750.5 604.71 L751.0 603.51 L751.5 602.04 L752.0 600.34 L752.5 598.41 L753.0 596.31 L753.5 594.04 L754.0 591.64 L754.5 589.14 L755.0 586.56 L755.5 583.92 L756.0 581.27 L756.5 578.61 L757.0 575.98 L757.5 573.41 L758.0 570.93 L758.5 568.55 L759.0 566.31 L759.5 564.23 L760.0 562.35 L760.5 560.68 L761.0 559.23 L761.5 557.94 L762.0 556.76 L762.5 555.66 L763.0 554.60 L763.5 553.54 L764.0 552.45 L764.5 551.28 L765.0 550.00 L765.5 548.58 L766.0 546.96 L766.5 545.00 L767.0 542.49 L767.5 539.47 L768.0 536.01 L768.5 532.14 L769.0 527.92 L769.5 523.39 L770.0 518.62 L770.5 513.65 L771.0 508.52 L771.5 503.30 L772.0 498.03 L772.5 492.76 L773.0 487.54 L773.5 482.42 L774.0 477.45 L774.5 472.69 L775.0 468.18 L775.5 463.98 L776.0 460.12 L776.5 456.68 L777.0 453.68 L777.5 451.20 L778.0 449.27 L778.5 447.94 L779.0 447.27 L779.5 447.36 L780.0 448.47 L780.5 450.57 L781.0 453.58 L781.5 457.44 L782.0 462.09 L782.5 467.44 L783.0 473.44 L783.5 480.01 L784.0 487.08 L784.5 494.59 L785.0 502.47 L785.5 510.65 L786.0 519.06 L786.5 527.62 L787.0 536.28 L787.5 544.96 L788.0 553.59 L788.5 562.11 L789.0 570.44 L789.5 578.52 L790.0 586.28 L790.5 593.65 L791.0 600.55 L791.5 606.93 L792.0 612.71 L792.5 617.82 L793.0 622.20 L793.5 625.78 L794.0 628.47 L794.5 630.23 L795.0 630.98 L795.5 630.87 L796.0 630.36 L796.5 629.46 L797.0 628.21 L797.5 626.61 L798.0 624.69 L798.5 622.47 L799.0 619.95 L799.5 617.16 L800.0 614.11 L800.5 610.83 L801.0 607.32 L801.5 603.61 L802.0 599.72 L802.5 595.65 L803.0 591.44 L803.5 587.09 L804.0 582.62 L804.5 578.06 L805.0 573.41 L805.5 568.70 L806.0 563.95 L806.5 559.16 L807.0 554.36 L807.5 549.57 L808.0 544.80 L808.5 540.06 L809.0 535.39 L809.5 530.79 L810.0 526.28 L810.5 521.89 L811.0 517.62 L811.5 513.49 L812.0 509.53 L812.5 505.74 L813.0 502.15 L813.5 498.78 L814.0 495.63 L814.5 492.74 L815.0 490.11 L815.5 487.76 L816.0 485.72 L816.5 483.99 L817.0 482.60 L817.5 481.56 L818.0 480.89 L818.5 480.61 L819.0 480.73 L819.5 481.24 L820.0 482.13 L820.5 483.37 L821.0 484.95 L821.5 486.83 L822.0 489.01 L822.5 491.47 L823.0 494.18 L823.5 497.12 L824.0 500.27 L824.5 503.62 L825.0 507.15 L825.5 510.83 L826.0 514.64 L826.5 518.56 L827.0 522.58 L827.5 526.68 L828.0 530.82 L828.5 535.01 L829.0 539.20 L829.5 543.40 L830.0 547.56 L830.5 551.68 L831.0 555.74 L831.5 559.71 L832.0 563.58 L832.5 567.32 L833.0 570.91 L833.5 574.34 L834.0 577.59 L834.5 580.63 L835.0 583.44 L835.5 586.01 L836.0 588.32 L836.5 590.34 L837.0 592.06 L837.5 593.45 L838.0 594.50 L838.5 595.19 L839.0 595.49 L839.5 595.42 L840.0 595.06 L840.5 594.42 L841.0 593.53 L841.5 592.39 L842.0 591.02 L842.5 589.43 L843.0 587.63 L843.5 585.65 L844.0 583.48 L844.5 581.15 L845.0 578.66 L845.5 576.04 L846.0 573.30 L846.5 570.44 L847.0 567.49 L847.5 564.45 L848.0 561.34 L848.5 558.18 L849.0 554.97 L849.5 551.73 L850.0 548.48 L850.5 545.22 L851.0 541.97 L851.5 538.75 L852.0 535.57 L852.5 532.44 L853.0 529.37 L853.5 526.38 L854.0 523.48 L854.5 520.69 L855.0 518.02 L855.5 515.48 L856.0 513.08 L856.5 510.85 L857.0 508.79 L857.5 506.91 L858.0 505.24 L858.5 503.78 L859.0 502.55 L859.5 501.55 L860.0 500.81 L860.5 500.34 L861.0 500.15 L861.5 500.20 L862.0 500.37 L862.5 500.67 L863.0 501.08 L863.5 501.61 L864.0 502.24 L864.5 502.98 L865.0 503.81 L865.5 504.73 L866.0 505.74 L866.5 506.83 L867.0 507.99 L867.5 509.23 L868.0 510.53 L868.5 511.89 L869.0 513.31 L869.5 514.77 L870.0 516.28 L870.5 517.83 L871.0 519.41 L871.5 521.02 L872.0 522.66 L872.5 524.31 L873.0 525.98 L873.5 527.65 L874.0 529.33 L874.5 531.00 L875.0 532.70 L875.5 534.74 L876.0 537.15 L876.5 539.90 L877.0 542.93 L877.5 546.22 L878.0 549.72 L878.5 553.38 L879.0 557.16 L879.5 561.03 L880.0 564.93 L880.5 568.83 L881.0 572.69 L881.5 576.46 L882.0 580.09 L882.5 583.56 L883.0 586.81 L883.5 589.81 L884.0 592.51 L884.5 594.87 L885.0 596.85 L885.5 598.40 L886.0 599.49 L886.5 600.06 L887.0 600.07 L887.5 599.38 L888.0 598.01 L888.5 596.01 L889.0 593.42 L889.5 590.29 L890.0 586.68 L890.5 582.63 L891.0 578.19 L891.5 573.41 L892.0 568.33 L892.5 563.01 L893.0 557.49 L893.5 551.82 L894.0 546.06 L894.5 540.24 L895.0 534.42 L895.5 528.65 L896.0 522.97 L896.5 517.44 L897.0 512.09 L897.5 506.99 L898.0 502.17 L898.5 497.70 L899.0 493.60 L899.5 489.95 L900.0 486.77 L900.5 484.13 L901.0 482.06 L901.5 480.62 L902.0 479.86 L902.5 479.83 L903.0 480.56 L903.5 482.00 L904.0 484.10 L904.5 486.78 L905.0 490.00 L905.5 493.69 L906.0 497.80 L906.5 502.25 L907.0 507.00 L907.5 511.98 L908.0 517.13 L908.5 522.39 L909.0 527.70 L909.5 533.00 L910.0 538.23 L910.5 543.34 L911.0 548.25 L911.5 552.92 L912.0 557.27 L912.5 561.26 L913.0 564.81 L913.5 567.88 L914.0 570.40 L914.5 572.30 L915.0 573.54 L915.5 574.04 L916.0 573.84 L916.5 573.07 L917.0 571.80 L917.5 570.08 L918.0 567.94 L918.5 565.45 L919.0 562.66 L919.5 559.61 L920.0 556.36 L920.5 552.96 L921.0 549.45 L921.5 545.90 L922.0 542.35 L922.5 538.84 L923.0 535.44 L923.5 532.19 L924.0 529.14 L924.5 526.35 L925.0 523.86 L925.5 521.72 L926.0 520.00 L926.5 518.73 L927.0 517.96 L927.5 517.75 L928.0 518.03 L928.5 518.69 L929.0 519.71 L929.5 521.04 L930.0 522.65 L930.5 524.50 L931.0 526.55 L931.5 528.76 L932.0 531.10 L932.5 533.53 L933.0 536.00 L933.5 538.49 L934.0 540.95 L934.5 543.35 L935.0 545.64 L935.5 547.79 L936.0 549.77 L936.5 551.52 L937.0 553.03 L937.5 554.24 L938.0 555.12 L938.5 555.63 L939.0 555.74 L939.5 555.44 L940.0 554.77 L940.5 553.78 L941.0 552.49 L941.5 550.96 L942.0 549.20 L942.5 547.28 L943.0 545.21 L943.5 543.05 L944.0 540.82 L944.5 538.58 L945.0 536.34 L945.5 534.16 L946.0 532.08 L946.5 530.12 L947.0 528.33 L947.5 526.75 L948.0 525.41 L948.5 524.35 L949.0 523.62 L949.5 523.24 L950.0 523.26 L950.5 523.67 L951.0 524.44 L951.5 525.55 L952.0 526.95 L952.5 528.62 L953.0 530.52 L953.5 532.63 L954.0 534.92 L954.5 537.35 L955.0 539.89 L955.5 542.52 L956.0 545.20 L956.5 547.89 L957.0 550.58 L957.5 553.23 L958.0 555.80 L958.5 558.27 L959.0 560.60 L959.5 562.77 L960.0 564.74 L960.5 566.48 L961.0 567.96 L961.5 569.16 L962.0 570.03 L962.5 570.56 L963.0 570.69 L963.5 570.32 L964.0 569.39 L964.5 567.94 L965.0 566.03 L965.5 563.68 L966.0 560.94 L966.5 557.84 L967.0 554.43 L967.5 550.74 L968.0 546.81 L968.5 542.68 L969.0 538.39 L969.5 533.99 L970.0 529.50 L970.5 524.98 L971.0 520.45 L971.5 515.96 L972.0 511.54 L972.5 507.24 L973.0 503.10 L973.5 499.15 L974.0 495.43 L974.5 491.99 L975.0 488.86 L975.5 486.08 L976.0 483.69 L976.5 481.73 L977.0 480.24 L977.5 479.25 L978.0 478.82 L978.5 479.01 L979.0 479.93 L979.5 481.54 L980.0 483.77 L980.5 486.60 L981.0 489.96 L981.5 493.82 L982.0 498.11 L982.5 502.80 L983.0 507.83 L983.5 513.16 L984.0 518.74 L984.5 524.52 L985.0 530.46 L985.5 536.49 L986.0 542.58 L986.5 548.68 L987.0 554.74 L987.5 560.71 L988.0 566.54 L988.5 572.19 L989.0 577.60 L989.5 582.72 L990.0 587.52 L990.5 591.94 L991.0 595.93 L991.5 599.45 L992.0 602.44 L992.5 604.86 L993.0 606.66 L993.5 607.79 L994.0 608.20 L994.5 607.92 L995.0 607.06 L995.5 605.65 L996.0 603.74 L996.5 601.37 L997.0 598.58 L997.5 595.40 L998.0 591.89 L998.5 588.08 L999.0 584.01 L999.5 579.73 L1000.0 575.28 L1000.5 570.69 L1001.0 566.01 L1001.5 561.28 L1002.0 556.55 L1002.5 551.84 L1003.0 547.22 L1003.5 542.70 L1004.0 538.35 L1004.5 534.19 L1005.0 530.27 L1005.5 526.63 L1006.0 523.31 L1006.5 520.36 L1007.0 517.81 L1007.5 515.70 L1008.0 514.09 L1008.5 513.00 L1009.0 512.38 L1009.5 511.88 L1010.0 511.46 L1010.5 511.10 L1011.0 510.78 L1011.5 510.48 L1012.0 510.19 L1012.5 509.88 L1013.0 509.54 L1013.5 509.14 L1014.0 508.67 L1014.5 508.08 L1015.0 507.34 L1015.5 506.47 L1016.0 505.52 L1016.5 504.50 L1017.0 503.44 L1017.5 502.38 L1018.0 501.33 L1018.5 500.33 L1019.0 499.41 L1019.5 498.59 L1020.0 497.90 L1020.5 497.37 L1021.0 497.03 L1021.5 496.90 L1022.0 497.18 L1022.5 498.06 L1023.0 499.50 L1023.5 501.46 L1024.0 503.90 L1024.5 506.79 L1025.0 510.08 L1025.5 513.73 L1026.0 517.71 L1026.5 521.98 L1027.0 526.49 L1027.5 531.21 L1028.0 536.11 L1028.5 541.13 L1029.0 546.24 L1029.5 551.41 L1030.0 556.59 L1030.5 561.75 L1031.0 566.84 L1031.5 571.83 L1032.0 576.67 L1032.5 581.34 L1033.0 585.78 L1033.5 589.97 L1034.0 593.85 L1034.5 597.40 L1035.0 600.57 L1035.5 603.33 L1036.0 605.63 L1036.5 607.44 L1037.0 608.71 L1037.5 609.42 L1038.0 609.51 L1038.5 609.01 L1039.0 607.96 L1039.5 606.39 L1040.0 604.35 L1040.5 601.86 L1041.0 598.97 L1041.5 595.73 L1042.0 592.15 L1042.5 588.30 L1043.0 584.19 L1043.5 579.88 L1044.0 575.39 L1044.5 570.78 L1045.0 566.07 L1045.5 561.30 L1046.0 556.52 L1046.5 551.76 L1047.0 547.06 L1047.5 542.45 L1048.0 537.98 L1048.5 533.69 L1049.0 529.61 L1049.5 525.78 L1050.0 522.24 L1050.5 519.03 L1051.0 516.18 L1051.5 513.74 L1052.0 511.61 L1052.5 509.46 L1053.0 507.31 L1053.5 505.14 L1054.0 502.99 L1054.5 500.85 L1055.0 498.73 L1055.5 496.65 L1056.0 494.61 L1056.5 492.62 L1057.0 490.70 L1057.5 488.85 L1058.0 487.08 L1058.5 485.40 L1059.0 483.82 L1059.5 482.35 L1060.0 481.00 L1060.5 479.78 L1061.0 478.70 L1061.5 477.77 L1062.0 476.99 L1062.5 476.38 L1063.0 475.95 L1063.5 475.71 L1064.0 475.67 L1064.5 476.18 L1065.0 477.33 L1065.5 479.09 L1066.0 481.41 L1066.5 484.27 L1067.0 487.62 L1067.5 491.42 L1068.0 495.64 L1068.5 500.24 L1069.0 505.19 L1069.5 510.43 L1070.0 515.95 L1070.5 521.69 L1071.0 527.62 L1071.5 533.71 L1072.0 539.91 L1072.5 546.19 L1073.0 552.51 L1073.5 558.83 L1074.0 565.11 L1074.5 571.32 L1075.0 577.42 L1075.5 583.37 L1076.0 589.14 L1076.5 594.68 L1077.0 599.95 L1077.5 604.93 L1078.0 609.56 L1078.5 613.83 L1079.0 617.67 L1079.5 621.07 L1080.0 623.98 L1080.5 626.36 L1081.0 628.17 L1081.5 629.39 L1082.0 629.96 L1082.5 629.86 L1083.0 629.09 L1083.5 627.69 L1084.0 625.69 L1084.5 623.15 L1085.0 620.08 L1085.5 616.52 L1086.0 612.53 L1086.5 608.12 L1087.0 603.34 L1087.5 598.22 L1088.0 592.81 L1088.5 587.13 L1089.0 581.23 L1089.5 575.14 L1090.0 568.90 L1090.5 562.55 L1091.0 556.12 L1091.5 549.65 L1092.0 543.17 L1092.5 536.73 L1093.0 530.36 L1093.5 524.09 L1094.0 517.97 L1094.5 512.03 L1095.0 506.31 L1095.5 500.84 L1096.0 495.66 L1096.5 490.81 L1097.0 486.32 L1097.5 482.24 L1098.0 478.60 L1098.5 475.43 L1099.0 472.77 L1099.5 470.66 L1100.0 469.14 L1100.5 468.25 L1101.0 468.01 L1101.5 468.34 L1102.0 469.15 L1102.5 470.41 L1103.0 472.09 L1103.5 474.14 L1104.0 476.55 L1104.5 479.27 L1105.0 482.27 L1105.5 485.51 L1106.0 488.97 L1106.5 492.61 L1107.0 496.39 L1107.5 500.28 L1108.0 504.25 L1108.5 508.26 L1109.0 512.28 L1109.5 516.28 L1110.0 520.22 L1110.5 524.07 L1111.0 527.79 L1111.5 531.36 L1112.0 534.73 L1112.5 537.87 L1113.0 540.76 L1113.5 543.35 L1114.0 545.61 L1114.5 547.52 L1115.0 549.14 L1115.5 550.62 L1116.0 551.98 L1116.5 553.24 L1117.0 554.42 L1117.5 555.55 L1118.0 556.64 L1118.5 557.71 L1119.0 558.79 L1119.5 559.90 L1120.0 561.06 L1120.5 562.28 L1121.0 563.59 L1121.5 565.02 L1122.0 566.60 L1122.5 568.45 L1123.0 570.56 L1123.5 572.88 L1124.0 575.38 L1124.5 578.01 L1125.0 580.74 L1125.5 583.53 L1126.0 586.34 L1126.5 589.13 L1127.0 591.86 L1127.5 594.49 L1128.0 596.98 L1128.5 599.29 L1129.0 601.39 L1129.5 603.23 L1130.0 604.77 L1130.5 605.99 L1131.0 606.83 L1131.5 607.25 L1132.0 607.15 L1132.5 606.17 L1133.0 604.30 L1133.5 601.61 L1134.0 598.17 L1134.5 594.01 L1135.0 589.22 L1135.5 583.85 L1136.0 577.95 L1136.5 571.59 L1137.0 564.83 L1137.5 557.73 L1138.0 550.34 L1138.5 542.73 L1139.0 534.95 L1139.5 527.07 L1140.0 519.14 L1140.5 511.23 L1141.0 503.40 L1141.5 495.69 L1142.0 488.19 L1142.5 480.93 L1143.0 473.99 L1143.5 467.42 L1144.0 461.29 L1144.5 455.64 L1145.0 450.55 L1145.5 446.08 L1146.0 442.27 L1146.5 439.19 L1147.0 436.91 L1147.5 435.47 L1148.0 434.95 L1148.5 435.43 L1149.0 436.94 L1149.5 439.40 L1150.0 442.73 L1150.5 446.88 L1151.0 451.77 L1151.5 457.33 L1152.0 463.49 L1152.5 470.17 L1153.0 477.31 L1153.5 484.83 L1154.0 492.66 L1154.5 500.73 L1155.0 508.98 L1155.5 517.32 L1156.0 525.70 L1156.5 534.03 L1157.0 542.25 L1157.5 550.28 L1158.0 558.06 L1158.5 565.51 L1159.0 572.56 L1159.5 579.14 L1160.0 585.18 L1160.5 590.61 L1161.0 595.36 L1161.5 599.35 L1162.0 602.52 L1162.5 604.79 L1163.0 606.10 L1163.5 606.38 L1164.0 605.92 L1164.5 604.89 L1165.0 603.34 L1165.5 601.31 L1166.0 598.86 L1166.5 596.04 L1167.0 592.89 L1167.5 589.46 L1168.0 585.81 L1168.5 581.99 L1169.0 578.04 L1169.5 574.01 L1170.0 569.95 L1170.5 565.92 L1171.0 561.96 L1171.5 558.11 L1172.0 554.44 L1172.5 550.99 L1173.0 547.81 L1173.5 544.94 L1174.0 542.45 L1174.5 540.37 L1175.0 538.76 L1175.5 537.67 L1176.0 537.14 L1176.5 536.90 L1177.0 536.70 L1177.5 536.54 L1178.0 536.40 L1178.5 536.28 L1179.0 536.17 L1179.5 536.07 L1180.0 535.98 L1180.5 535.88 L1181.0 535.77 L1181.5 535.65 L1182.0 535.50 L1182.5 535.33 L1183.0 535.13 L1183.5 534.87 L1184.0 534.41 L1184.5 533.75 L1185.0 532.91 L1185.5 531.91 L1186.0 530.78 L1186.5 529.52 L1187.0 528.18 L1187.5 526.76 L1188.0 525.29 L1188.5 523.79 L1189.0 522.28 L1189.5 520.79 L1190.0 519.33 L1190.5 517.93 L1191.0 516.61 L1191.5 515.39 L1192.0 514.30 L1192.5 513.34 L1193.0 512.56 L1193.5 511.95 L1194.0 511.56 L1194.5 511.40 L1195.0 511.51 L1195.5 511.91 L1196.0 512.57 L1196.5 513.50 L1197.0 514.66 L1197.5 516.03 L1198.0 517.61 L1198.5 519.37 L1199.0 521.28 L1199.5 523.35 L1200.0 525.54 L1200.5 527.83 L1201.0 530.22 L1201.5 532.68 L1202.0 535.18 L1202.5 537.73 L1203.0 540.28 L1203.5 542.84 L1204.0 545.37 L1204.5 547.87 L1205.0 550.30 L1205.5 552.67 L1206.0 554.93 L1206.5 557.08 L1207.0 559.11 L1207.5 560.98 L1208.0 562.68 L1208.5 564.20 L1209.0 565.51 L1209.5 566.61 L1210.0 567.45 L1210.5 568.04 L1211.0 568.35 L1211.5 568.37 L1212.0 568.06 L1212.5 567.44 L1213.0 566.54 L1213.5 565.38 L1214.0 563.98 L1214.5 562.36 L1215.0 560.54 L1215.5 558.55 L1216.0 556.40 L1216.5 554.13 L1217.0 551.75 L1217.5 549.28 L1218.0 546.74 L1218.5 544.17 L1219.0 541.57 L1219.5 538.97 L1220.0 536.40 L1220.5 533.87 L1221.0 531.41 L1221.5 529.04 L1222.0 526.78 L1222.5 524.65 L1223.0 522.67 L1223.5 520.87 L1224.0 519.27 L1224.5 517.89 L1225.0 516.76 L1225.5 515.89 L1226.0 515.30 L1226.5 515.02 L1227.0 515.07 L1227.5 515.43 L1228.0 516.08 L1228.5 517.00 L1229.0 518.16 L1229.5 519.54 L1230.0 521.11 L1230.5 522.85 L1231.0 524.73 L1231.5 526.73 L1232.0 528.83 L1232.5 531.00 L1233.0 533.22 L1233.5 535.46 L1234.0 537.70 L1234.5 539.92 L1235.0 542.08 L1235.5 544.17 L1236.0 546.16 L1236.5 548.03 L1237.0 549.76 L1237.5 551.31 L1238.0 552.66 L1238.5 553.80 L1239.0 554.69 L1239.5 555.32 L1240.0 555.65 L1240.5 555.68 L1241.0 555.48 L1241.5 555.09 L1242.0 554.53 L1242.5 553.81 L1243.0 552.96 L1243.5 551.99 L1244.0 550.92 L1244.5 549.77 L1245.0 548.55 L1245.5 547.29 L1246.0 546.01 L1246.5 544.71 L1247.0 543.43 L1247.5 542.17 L1248.0 540.97 L1248.5 539.82 L1249.0 538.76 L1249.5 537.81 L1250.0 536.97 L1250.5 536.27 L1251.0 535.73 L1251.5 535.36 L1252.0 535.12 L1252.5 534.91 L1253.0 534.74 L1253.5 534.59 L1254.0 534.46 L1254.5 534.34 L1255.0 534.23 L1255.5 534.11 L1256.0 533.99 L1256.5 533.85 L1257.0 533.70 L1257.5 533.51 L1258.0 533.29 L1258.5 533.02 L1259.0 532.58 L1259.5 531.91 L1260.0 531.07 L1260.5 530.07 L1261.0 528.95 L1261.5 527.73 L1262.0 526.45 L1262.5 525.14 L1263.0 523.83 L1263.5 522.54 L1264.0 521.31 L1264.5 520.17 L1265.0 519.15 L1265.5 518.27 L1266.0 517.57 L1266.5 517.08 L1267.0 516.83 L1267.5 516.88 L1268.0 517.43 L1268.5 518.48 L1269.0 519.96 L1269.5 521.86 L1270.0 524.13 L1270.5 526.72 L1271.0 529.60 L1271.5 532.74 L1272.0 536.08 L1272.5 539.59 L1273.0 543.24 L1273.5 546.97 L1274.0 550.76 L1274.5 554.56 L1275.0 558.33 L1275.5 562.03 L1276.0 565.63 L1276.5 569.08 L1277.0 572.34 L1277.5 575.38 L1278.0 578.16 L1278.5 580.62 L1279.0 582.75 L1279.5 584.48 L1280.0 585.80 L1280.5 586.65 L1281.0 586.99 L1281.5 586.79 L1282.0 586.03 L1282.5 584.76 L1283.0 583.02 L1283.5 580.84 L1284.0 578.28 L1284.5 575.36 L1285.0 572.14 L1285.5 568.64 L1286.0 564.93 L1286.5 561.02 L1287.0 556.98 L1287.5 552.83 L1288.0 548.62 L1288.5 544.38 L1289.0 540.17 L1289.5 536.02 L1290.0 531.98 L1290.5 528.07 L1291.0 524.36 L1291.5 520.86 L1292.0 517.64 L1292.5 514.72 L1293.0 512.16 L1293.5 509.98 L1294.0 508.24 L1294.5 506.97 L1295.0 506.21 L1295.5 506.00 L1296.0 506.24 L1296.5 506.80 L1297.0 507.66 L1297.5 508.77 L1298.0 510.09 L1298.5 511.60 L1299.0 513.25 L1299.5 515.00 L1300.0 516.82 L1300.5 518.66 L1301.0 520.50 L1301.5 522.29 L1302.0 523.99 L1302.5 525.57 L1303.0 526.99 L1303.5 528.22 L1304.0 529.21 L1304.5 529.92 L1305.0 530.32 L1305.5 530.38 L1306.0 530.18 L1306.5 529.77 L1307.0 529.18 L1307.5 528.43 L1308.0 527.57 L1308.5 526.61 L1309.0 525.60 L1309.5 524.55 L1310.0 523.50 L1310.5 522.49 L1311.0 521.53 L1311.5 520.67 L1312.0 519.92 L1312.5 519.33 L1313.0 518.92 L1313.5 518.72 L1314.0 518.83 L1314.5 519.54 L1315.0 520.82 L1315.5 522.63 L1316.0 524.91 L1316.5 527.64 L1317.0 530.77 L1317.5 534.24 L1318.0 538.03 L1318.5 542.08 L1319.0 546.36 L1319.5 550.81 L1320.0 555.40 L1320.5 560.07 L1321.0 564.80 L1321.5 569.53 L1322.0 574.22 L1322.5 578.83 L1323.0 583.32 L1323.5 587.63 L1324.0 591.73 L1324.5 595.57 L1325.0 599.11 L1325.5 602.31 L1326.0 605.12 L1326.5 607.50 L1327.0 609.41 L1327.5 610.80 L1328.0 611.62 L1328.5 611.84 L1329.0 611.28 L1329.5 609.90 L1330.0 607.76 L1330.5 604.90 L1331.0 601.38 L1331.5 597.24 L1332.0 592.55 L1332.5 587.35 L1333.0 581.69 L1333.5 575.63 L1334.0 569.22 L1334.5 562.51 L1335.0 555.55 L1335.5 548.40 L1336.0 541.10 L1336.5 533.72 L1337.0 526.29 L1337.5 518.88 L1338.0 511.53 L1338.5 504.30 L1339.0 497.24 L1339.5 490.40 L1340.0 483.84 L1340.5 477.59 L1341.0 471.73 L1341.5 466.29 L1342.0 461.34 L1342.5 456.92 L1343.0 453.08 L1343.5 449.88 L1344.0 447.38 L1344.5 445.61 L1345.0 444.63 L1345.5 444.50 L1346.0 445.19 L1346.5 446.65 L1347.0 448.83 L1347.5 451.69 L1348.0 455.16 L1348.5 459.21 L1349.0 463.78 L1349.5 468.83 L1350.0 474.31 L1350.5 480.16 L1351.0 486.34 L1351.5 492.81 L1352.0 499.50 L1352.5 506.37 L1353.0 513.38 L1353.5 520.46 L1354.0 527.59 L1354.5 534.70 L1355.0 541.74 L1355.5 548.67 L1356.0 555.44 L1356.5 562.00 L1357.0 568.30 L1357.5 574.29 L1358.0 579.92 L1358.5 585.15 L1359.0 589.92 L1359.5 594.18 L1360.0 597.90 L1360.5 601.00 L1361.0 603.46 L1361.5 605.21 L1362.0 606.22 L1362.5 606.44 L1363.0 606.16 L1363.5 605.54 L1364.0 604.60 L1364.5 603.38 L1365.0 601.88 L1365.5 600.15 L1366.0 598.21 L1366.5 596.09 L1367.0 593.81 L1367.5 591.40 L1368.0 588.88 L1368.5 586.30 L1369.0 583.66 L1369.5 581.00 L1370.0 578.35 L1370.5 575.72 L1371.0 573.16 L1371.5 570.68 L1372.0 568.32 L1372.5 566.09 L1373.0 564.04 L1373.5 562.17 L1374.0 560.53 L1374.5 559.10 L1375.0 557.82 L1375.5 556.65 L1376.0 555.56 L1376.5 554.50 L1377.0 553.44 L1377.5 552.34 L1378.0 551.16 L1378.5 549.87 L1379.0 548.42 L1379.5 546.79 L1380.0 544.77 L1380.5 542.21 L1381.0 539.15 L1381.5 535.64 L1382.0 531.73 L1382.5 527.48 L1383.0 522.93 L1383.5 518.13 L1384.0 513.14 L1384.5 508.00 L1385.0 502.77 L1385.5 497.50 L1386.0 492.23 L1386.5 487.02 L1387.0 481.91 L1387.5 476.97 L1388.0 472.23 L1388.5 467.75 L1389.0 463.57 L1389.5 459.76 L1390.0 456.36 L1390.5 453.41 L1391.0 450.98 L1391.5 449.11 L1392.0 447.84 L1392.5 447.24 L1393.0 447.42 L1393.5 448.60 L1394.0 450.73 L1394.5 453.75 L1395.0 457.59 L1395.5 462.19 L1396.0 467.48 L1396.5 473.39 L1397.0 479.87 L1397.5 486.83 L1398.0 494.22 L1398.5 501.97 L1399.0 510.01 L1399.5 518.28 L1400.0 526.72 L1400.5 535.25 L1401.0 543.81 L1401.5 552.33 L1402.0 560.75 L1402.5 569.00 L1403.0 577.02 L1403.5 584.74 L1404.0 592.09 L1404.5 599.01 L1405.0 605.42 L1405.5 611.28 L1406.0 616.50 L1406.5 621.03 L1407.0 624.79 L1407.5 627.72 L1408.0 629.76 L1408.5 630.84 L1409.0 630.91 L1409.5 630.05 L1410.0 628.36 L1410.5 625.89 L1411.0 622.72 L1411.5 618.90 L1412.0 614.51 L1412.5 609.61 L1413.0 604.27 L1413.5 598.54 L1414.0 592.51 L1414.4 587.50" stroke="#ff0000" stroke-width="3.8"/>
<path d="M188 38 V1057" stroke="#111" stroke-width="4.6"/>
<path d="M168 1038.1 H1416" stroke="#111" stroke-width="4.6"/>
<path d="M168 40.7 H188" stroke="#141414" stroke-width="4.1"/>
<path d="M187.50 1038 V1057.00 M248.84 1038 V1047.50 M310.19 1038 V1057.00 M371.53 1038 V1047.50 M432.88 1038 V1057.00 M494.23 1038 V1047.50 M555.57 1038 V1057.00 M616.91 1038 V1047.50 M678.26 1038 V1057.00 M739.61 1038 V1047.50 M800.95 1038 V1057.00 M862.29 1038 V1047.50 M923.64 1038 V1057.00 M984.99 1038 V1047.50 M1046.33 1038 V1057.00 M1107.67 1038 V1047.50 M1169.02 1038 V1057.00 M1230.37 1038 V1047.50 M1291.71 1038 V1057.00 M1353.06 1038 V1047.50 M1414.40 1038 V1057.00 M188 40.70 H168.00 M188 290.10 H178.00 M188 539.50 H168.00 M188 788.90 H178.00" stroke="#141414" stroke-width="4.0"/>
</g>
<g font-size="42.5"><text transform="translate(187.50 1102.80) scale(1 1.045)" text-anchor="middle">0</text><text transform="translate(310.19 1102.80) scale(1 1.045)" text-anchor="middle">2</text><text transform="translate(432.88 1102.80) scale(1 1.045)" text-anchor="middle">4</text><text transform="translate(555.57 1102.80) scale(1 1.045)" text-anchor="middle">6</text><text transform="translate(678.26 1102.80) scale(1 1.045)" text-anchor="middle">8</text><text transform="translate(800.95 1102.80) scale(1 1.045)" text-anchor="middle">10</text><text transform="translate(923.64 1102.80) scale(1 1.045)" text-anchor="middle">12</text><text transform="translate(1046.33 1102.80) scale(1 1.045)" text-anchor="middle">14</text><text transform="translate(1169.02 1102.80) scale(1 1.045)" text-anchor="middle">16</text><text transform="translate(1291.71 1102.80) scale(1 1.045)" text-anchor="middle">18</text><text transform="translate(1414.40 1102.80) scale(1 1.045)" text-anchor="middle">20</text><text transform="translate(154.30 53.00) scale(1 1.045)" text-anchor="end">0.2</text><text transform="translate(154.30 551.80) scale(1 1.045)" text-anchor="end">0.0</text><text transform="translate(154.30 1050.60) scale(1 1.045)" text-anchor="end">-0.2</text></g>
<g font-size="51.5">
<text transform="translate(801.00 1184.50) scale(1 1.045)" text-anchor="middle">Time (s)</text>
<text transform="translate(67,537.5) rotate(-90)" text-anchor="middle">Position error (m)</text>
</g>
<rect x="1133" y="83.2" width="289.2" height="185.3" fill="none" stroke="#707070" stroke-width="3.2"/>
<g fill="none" stroke-width="4.1">
<path d="M1133 111.9 H1248.3" stroke="#000"/>
<path d="M1133 175.5 H1248.3" stroke="#ff1a1a"/>
<path d="M1133 238.9 H1248.3" stroke="#000"/>
</g>
<g font-size="51.5">
<text transform="translate(1259.80 128.30) scale(1 1.045)" text-anchor="start">δρ<tspan dy="5.5">_</tspan><tspan dy="-5.5">s(t)</tspan></text>
<text transform="translate(1261.00 193.50) scale(1 1.045)" text-anchor="start">x</text>
<text transform="translate(1259.80 257.00) scale(1 1.045)" text-anchor="start">-δρ<tspan dy="5.2">_</tspan><tspan dy="-5.2">s(t)</tspan></text>
</g>
</g></svg></div>
</body></html>
